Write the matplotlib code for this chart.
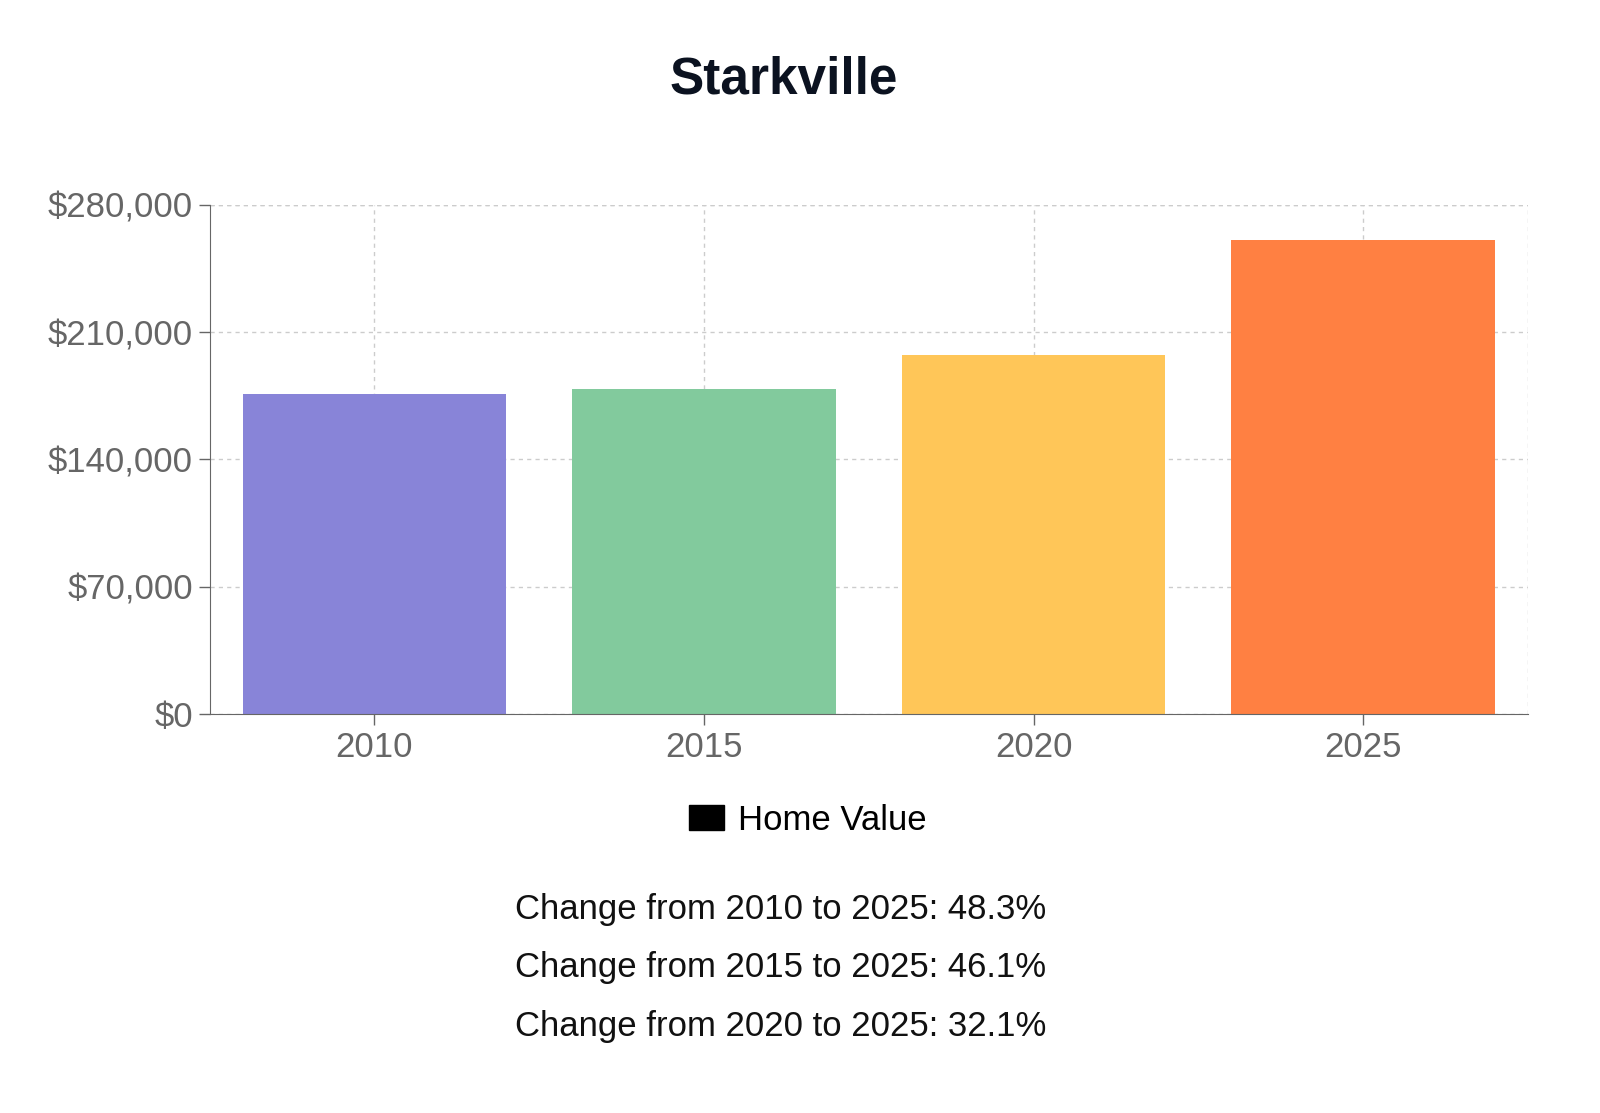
import matplotlib
matplotlib.use("Agg")
import matplotlib.pyplot as plt
from matplotlib.ticker import FuncFormatter
from matplotlib.patches import Patch

years = ["2010", "2015", "2020", "2025"]
values = [175850, 178500, 197400, 260800]
colors = ["#8884d8", "#82ca9d", "#ffc658", "#ff8042"]
yticks = [0, 70000, 140000, 210000, 280000]
changes = ["Change from 2010 to 2025: 48.3%",
           "Change from 2015 to 2025: 46.1%",
           "Change from 2020 to 2025: 32.1%"]

plt.rcParams["font.family"] = "Liberation Sans"
fig = plt.figure(figsize=(16, 11.13), dpi=100)
ax = fig.add_axes([0.131, 0.3585, 0.824, 0.4575])
x = range(len(years))
ax.bar(x, values, width=0.8, color=colors, zorder=2)
ax.set_xlim(-0.5, 3.5)
ax.set_ylim(0, 280000)
ax.set_xticks(list(x))
ax.set_xticklabels(years)
ax.set_yticks(yticks)
ax.yaxis.set_major_formatter(FuncFormatter(lambda v, p: f"${int(v):,}"))
ax.tick_params(colors="#666666", labelsize=25, length=8, width=1, pad=4)
for lbl in ax.get_xticklabels() + ax.get_yticklabels():
    lbl.set_color("#666666")
ax.grid(True, linestyle=(0, (3, 3)), color="#cccccc", linewidth=1, zorder=0)
for s in ["top", "right"]:
    ax.spines[s].set_visible(False)
for s in ["left", "bottom"]:
    ax.spines[s].set_color("#666666")
ax.axhline(280000, color="#cccccc", linestyle=(0, (3, 3)), linewidth=1, zorder=0)
ax.axvline(3.5, color="#cccccc", linestyle=(0, (3, 3)), linewidth=1, zorder=0)

fig.text(0.49, 0.928, "Starkville", ha="center", va="center", fontsize=37,
         fontweight="bold", color="#0b1220")
fig.legend(handles=[Patch(color="black", label="Home Value")], loc="center",
           bbox_to_anchor=(0.505, 0.263), frameon=False, fontsize=25,
           handlelength=1.0, handleheight=0.7, handletextpad=0.4)
for i, t in enumerate(changes):
    fig.text(0.488, 0.183 - i * 0.0525, t, ha="center", va="center",
             fontsize=25, color="#111111")
fig.savefig("out.png", dpi=100)
